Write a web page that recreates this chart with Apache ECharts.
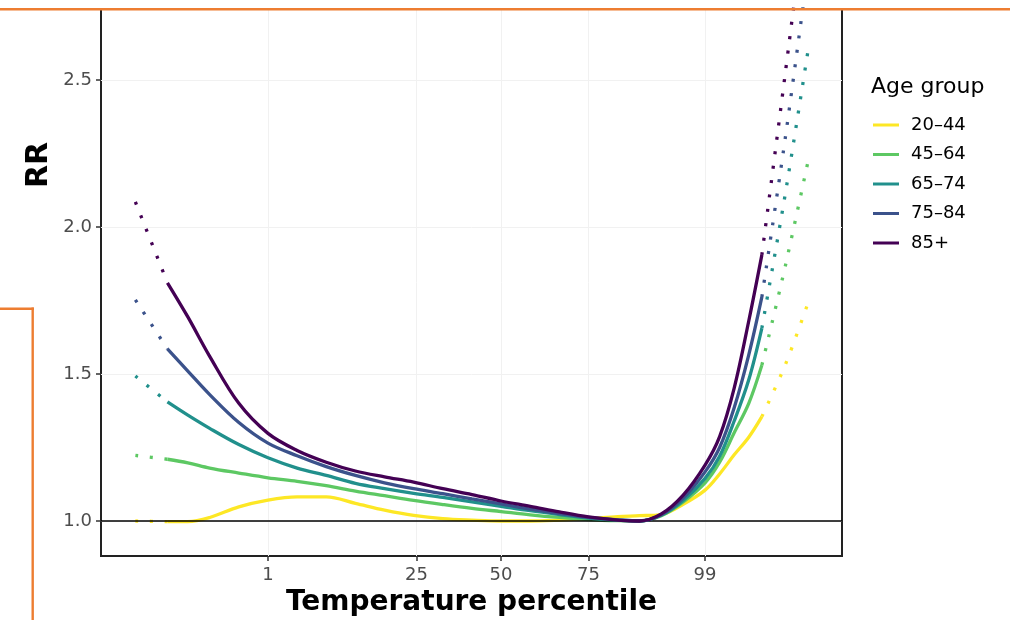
<!DOCTYPE html>
<html>
<head>
<meta charset="utf-8">
<script src="https://cdn.jsdelivr.net/npm/echarts@6/dist/echarts.min.js"></script>
<style>
  html, body { margin: 0; background: #fff; }
  #chart { width: 1010px; height: 620px; }
</style>
</head>
<body>
<div id="chart"></div>
<script>
// x axis is temperature; ticks are labelled by percentile
const tickTemps = [-3, 7.2, 13, 19, 27];
const tickLabels = ['1', '25', '50', '75', '99'];
const rrTicks = [1.0, 1.5, 2.0, 2.5];

const groups = ['20–44', '45–64', '65–74', '75–84', '85+'];
const colors = ['#FDE725', '#5DC863', '#21908C', '#3B528B', '#440154'];

// solid part of the curves
const tempMain = [-9.9, -8.5, -7, -5, -3, -1, 1, 3, 5, 7, 9, 11, 13, 15, 17, 19, 21, 22.5, 24, 25.5, 27, 28, 29, 30, 30.9];
const rr2044 = [0.998, 0.998, 1.012, 1.048, 1.071, 1.082, 1.082, 1.06, 1.037, 1.019, 1.008, 1.003, 1.0, 1.0, 1.003, 1.008, 1.015, 1.018, 1.022, 1.057, 1.105, 1.16, 1.225, 1.285, 1.355];
const rr4564 = [1.21, 1.198, 1.18, 1.163, 1.147, 1.135, 1.12, 1.102, 1.086, 1.07, 1.056, 1.043, 1.032, 1.021, 1.012, 1.005, 1.001, 1.0, 1.018, 1.065, 1.13, 1.2, 1.3, 1.4, 1.53];
const rr6574 = [1.405, 1.36, 1.315, 1.26, 1.215, 1.18, 1.155, 1.128, 1.11, 1.094, 1.08, 1.065, 1.05, 1.035, 1.022, 1.01, 1.003, 1.0, 1.02, 1.07, 1.145, 1.22, 1.34, 1.48, 1.656];
const rr7584 = [1.585, 1.51, 1.43, 1.335, 1.265, 1.222, 1.185, 1.155, 1.13, 1.11, 1.093, 1.075, 1.058, 1.04, 1.025, 1.012, 1.004, 1.0, 1.021, 1.078, 1.167, 1.25, 1.385, 1.565, 1.762];
const rr85 = [1.81, 1.694, 1.56, 1.40, 1.298, 1.24, 1.20, 1.17, 1.15, 1.132, 1.11, 1.09, 1.068, 1.05, 1.031, 1.014, 1.003, 1.0, 1.024, 1.088, 1.19, 1.287, 1.452, 1.68, 1.905];

// dotted extrapolation below 1st and above 99th percentile
const tempLow = [-12.1, -9.9];
const low2044 = [1.0, 0.998];
const low4564 = [1.223, 1.21];
const low6574 = [1.493, 1.405];
const low7584 = [1.752, 1.585];
const low85 = [2.085, 1.81];

const tempHigh = [30.9, 32.5, 34.1];
const high2044 = [1.355, 1.53, 1.746];
const high4564 = [1.53, 1.865, 2.23];
const high6574 = [1.656, 2.11, 2.61];
const high7584 = [1.762, 2.30, 2.89];
const high85 = [1.905, 2.52, 3.15];

const mainVals = [rr2044, rr4564, rr6574, rr7584, rr85];
const lowVals = [low2044, low4564, low6574, low7584, low85];
const highVals = [high2044, high4564, high6574, high7584, high85];

const FONT = '"DejaVu Sans", sans-serif';
const ORANGE = '#ED7D31';

function pairs(xs, ys) {
  return xs.map((x, i) => [x, ys[i]]);
}

const series = [];
groups.forEach((g, i) => {
  series.push({
    name: g,
    type: 'line',
    data: pairs(tempMain, mainVals[i]),
    symbol: 'none',
    smooth: 0.35,
    lineStyle: { width: 3.3, color: colors[i] },
    itemStyle: { color: colors[i] },
    z: 3 + i,
    markLine: i === 0 ? {
      silent: true,
      symbol: 'none',
      label: { show: false },
      lineStyle: { color: '#000', width: 1.5, type: 'solid' },
      data: [{ yAxis: 1 }]
    } : undefined
  });
});
groups.forEach((g, i) => {
  [[tempLow, lowVals[i]], [tempHigh, highVals[i]]].forEach(([xs, ys]) => {
    series.push({
      name: g,
      type: 'line',
      data: pairs(xs, ys),
      symbol: 'none',
      smooth: 0.3,
      lineStyle: { width: 3.3, color: colors[i], type: [3, 11.5] },
      itemStyle: { color: colors[i] },
      z: 3 + i
    });
  });
});

const chart = echarts.init(document.getElementById('chart'));
chart.setOption({
  animation: false,
  textStyle: { fontFamily: FONT },
  grid: {
    left: 101, right: 168, top: 9, bottom: 64,
    show: true, borderColor: '#222', borderWidth: 2,
    containLabel: false, outerBoundsMode: 'none'
  },
  title: {
    text: 'Age group',
    left: 871, top: 76, padding: 0,
    textStyle: { fontFamily: FONT, fontSize: 22, fontWeight: 'normal', color: '#000' }
  },
  legend: {
    orient: 'vertical',
    left: 873, top: 115, padding: 0,
    data: groups,
    icon: 'rect',
    itemWidth: 26, itemHeight: 3, itemGap: 9.5,
    textStyle: { fontFamily: FONT, fontSize: 18, color: '#000', lineHeight: 20, padding: [0, 0, 0, 7] }
  },
  xAxis: {
    type: 'value',
    min: -14.46, max: 36.4,
    axisLine: { show: false, onZero: false },
    axisTick: { customValues: tickTemps, length: 5, lineStyle: { color: '#333', width: 1.5 } },
    axisLabel: {
      customValues: tickTemps,
      margin: 10,
      fontSize: 18, color: '#4d4d4d', fontFamily: FONT,
      formatter: v => {
        let best = 0;
        tickTemps.forEach((t, k) => { if (Math.abs(t - v) < Math.abs(tickTemps[best] - v)) best = k; });
        return tickLabels[best];
      }
    },
    splitLine: { show: true, lineStyle: { color: '#f1f1f1', width: 1 } },
    name: 'Temperature percentile',
    nameLocation: 'middle',
    nameGap: 29,
    nameTextStyle: { fontFamily: FONT, fontSize: 28, fontWeight: 'bold', color: '#000' }
  },
  yAxis: {
    type: 'value',
    min: 0.881, max: 2.741,
    axisLine: { show: false, onZero: false },
    axisTick: { customValues: rrTicks, length: 5, lineStyle: { color: '#333', width: 1.5 } },
    axisLabel: {
      customValues: rrTicks,
      margin: 9,
      fontSize: 18, color: '#4d4d4d', fontFamily: FONT,
      formatter: v => v.toFixed(1)
    },
    splitLine: { show: true, lineStyle: { color: '#f1f1f1', width: 1 } }
  },
  graphic: [
    {
      type: 'text', x: 39, y: 165, rotation: Math.PI / 2,
      style: { text: 'RR', font: 'bold 30px "DejaVu Sans"', fill: '#000', align: 'center', verticalAlign: 'middle' }
    },
    { type: 'rect', z: 100, shape: { x: 0, y: 8, width: 1010, height: 2.6 }, style: { fill: ORANGE } },
    { type: 'rect', z: 100, shape: { x: 31.5, y: 307.5, width: 2.4, height: 320 }, style: { fill: ORANGE } },
    { type: 'rect', z: 100, shape: { x: 0, y: 307.5, width: 33.9, height: 2.4 }, style: { fill: ORANGE } }
  ],
  series: series
});
</script>
</body>
</html>
